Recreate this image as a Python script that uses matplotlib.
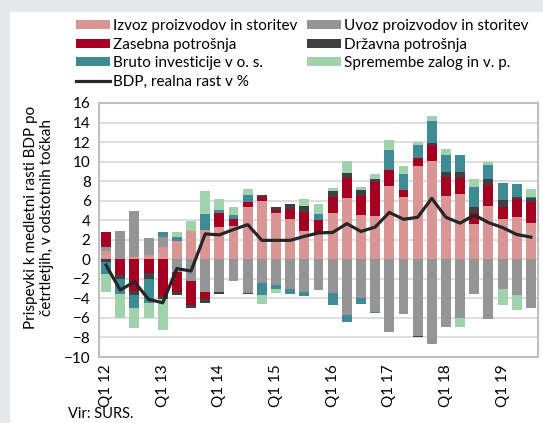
import numpy as np
import matplotlib
matplotlib.use("Agg")
import matplotlib.pyplot as plt
from matplotlib.patches import Rectangle

plt.rcParams['font.family'] = ['Lato', 'DejaVu Sans']

# quarters Q1 2012 .. Q3 2019
quarters = [f"Q{q} {y}" for y in range(12, 20) for q in range(1, 5)][:31]
tick_labels = [q if q.startswith("Q1") else "" for q in quarters]

# contributions to y/y GDP growth, p.p.
izvoz = [0.8, 0.0, 0.24, 0.47, 1.25, 1.9, 2.88, 3.05, 3.29, 3.36, 5.32, 5.97, 4.78, 4.12, 2.86, 2.69,
         4.78, 6.3, 4.5, 4.4, 7.55, 6.4, 9.5, 10.03, 6.47, 6.7, 3.63, 5.46, 4.17, 4.3, 3.76]
uvoz = [0.42, 2.88, 4.68, 1.67, 1.02, -1.32, -2.24, -3.36, -3.36, -2.27, -3.42, -2.47, -2.65, -3.05, -3.3, -3.12,
        -3.4, -5.75, -3.95, -5.4, -7.45, -5.56, -7.9, -8.7, -6.9, -6.03, -3.6, -6.14, -3.08, -3.7, -4.98]
zasebna = [1.53, -1.56, -3.25, -1.42, -3.76, -2.04, -2.44, -0.67, 1.49, 0.78, 0.58, 0.43, 0.25, 0.98, 1.97, 1.33,
           1.6, 2.0, 2.0, 3.5, 1.55, 0.7, 0.9, 1.63, 1.97, 1.64, 1.15, 2.14, 1.22, 1.87, 2.14]
drzavna = [-0.24, -0.41, -0.45, -0.55, -0.27, -0.34, -0.32, -0.41, -0.17, 0.0, -0.11, 0.14, 0.36, 0.55, 0.65, 0.0,
           0.65, 0.53, 0.55, 0.3, 0.0, -0.05, -0.1, 0.24, 0.51, 0.61, 0.61, 0.6, 0.64, 0.2, 0.4]
investicije = [-1.29, -1.63, -1.3, -2.53, 0.48, 0.34, 0.0, 1.63, 0.27, 0.36, 0.64, -1.19, -0.35, -0.5, -0.5, 0.6,
               -1.25, -0.7, -0.6, -0.1, 2.05, 1.6, 1.3, 2.3, 1.69, 1.69, 2.03, 1.43, 1.8, 1.33, 0.1]
zaloge = [-1.79, -2.37, -2.0, -1.47, -3.22, 0.51, 1.02, 2.32, 1.15, 0.82, 0.65, -0.94, -0.4, 0.0, 0.68, 1.04,
          0.27, 1.27, 0.4, 0.5, 1.05, 0.9, 0.3, 0.5, 0.61, -0.87, 0.78, 0.34, -1.62, -1.5, 0.79]
bdp = [-0.6, -3.15, -2.3, -4.1, -4.45, -0.95, -1.2, 2.6, 2.5, 3.05, 3.55, 1.94, 1.94, 1.94, 2.35, 2.7,
       2.75, 3.65, 2.85, 3.3, 4.8, 4.1, 4.3, 6.24, 4.3, 3.7, 4.54, 3.76, 3.25, 2.54, 2.27]

series = [
    ("Izvoz proizvodov in storitev", izvoz, "#d99694"),
    ("Uvoz proizvodov in storitev", uvoz, "#959595"),
    ("Zasebna potrošnja", zasebna, "#a50021"),
    ("Državna potrošnja", drzavna, "#404040"),
    ("Bruto investicije v o. s.", investicije, "#3e8b95"),
    ("Spremembe zalog in v. p.", zaloge, "#a0d2ab"),
]

W, H = 543, 423
fig = plt.figure(figsize=(W / 100, H / 100), dpi=100)
fig.patch.set_facecolor("white")
# grey page margin on top and left
for r in [(0, 1 - 12 / H, 1, 12 / H), (0, 0, 10 / W, 1)]:
    fig.add_artist(Rectangle(r[:2], r[2], r[3], transform=fig.transFigure,
                             facecolor="#e6e7e8", edgecolor="none", zorder=-5))

ax = fig.add_axes([99 / W, (H - 357) / H, (538 - 99) / W, (357 - 103) / H])
x = np.arange(len(quarters))
pos_bottom = np.zeros(len(x))
neg_bottom = np.zeros(len(x))
handles = {}
for name, vals, col in series:
    v = np.array(vals)
    bottom = np.where(v >= 0, pos_bottom, neg_bottom)
    b = ax.bar(x, v, 0.7, bottom=bottom, color=col, edgecolor="none", zorder=2)
    handles[name] = b
    pos_bottom += np.where(v >= 0, v, 0)
    neg_bottom += np.where(v < 0, v, 0)

line, = ax.plot(x, bdp, color="#262626", lw=2.3, zorder=3)

ax.set_xlim(-0.5, len(x) - 0.5)
ax.set_ylim(-10, 16)
ax.set_yticks(range(-10, 17, 2))
ax.set_xticks(x)
ax.set_xticklabels(tick_labels, rotation=90)
ax.tick_params(length=0, labelsize=11, colors="black")
ax.tick_params(axis="y", pad=6)
ax.tick_params(axis="x", pad=5)
ax.grid(axis="y", color="#d4d4d4", lw=1.1, zorder=0)
ax.set_axisbelow(True)
for s in ax.spines.values():
    s.set_color("#bfbfbf")
    s.set_linewidth(1.5)

fig.text(39 / W, 1 - 217 / H, "Prispevki k medletni rasti BDP po\nčetrtletjih, v odstotnih točkah",
         rotation=90, ha="center", va="center", fontsize=11, linespacing=1.15)
fig.text(68 / W, 1 - 414 / H, "Vir: SURS.", ha="left", va="center", fontsize=10.5)

order = ["Izvoz proizvodov in storitev", "Zasebna potrošnja", "Bruto investicije v o. s.", None,
         "Uvoz proizvodov in storitev", "Državna potrošnja", "Spremembe zalog in v. p."]
hs, ls = [], []
for n in order:
    if n is None:
        hs.append(line)
        ls.append("BDP, realna rast v %")
    else:
        hs.append(handles[n])
        ls.append(n)
fig.legend(hs, ls, ncol=2, loc="upper left", bbox_to_anchor=(76 / W, 1 - 19 / H),
           frameon=False, fontsize=11, handlelength=2.2, handleheight=0.55,
           handletextpad=0.25, columnspacing=0.6, labelspacing=0.3, borderpad=0, borderaxespad=0)

fig.savefig("out.png", dpi=100)
